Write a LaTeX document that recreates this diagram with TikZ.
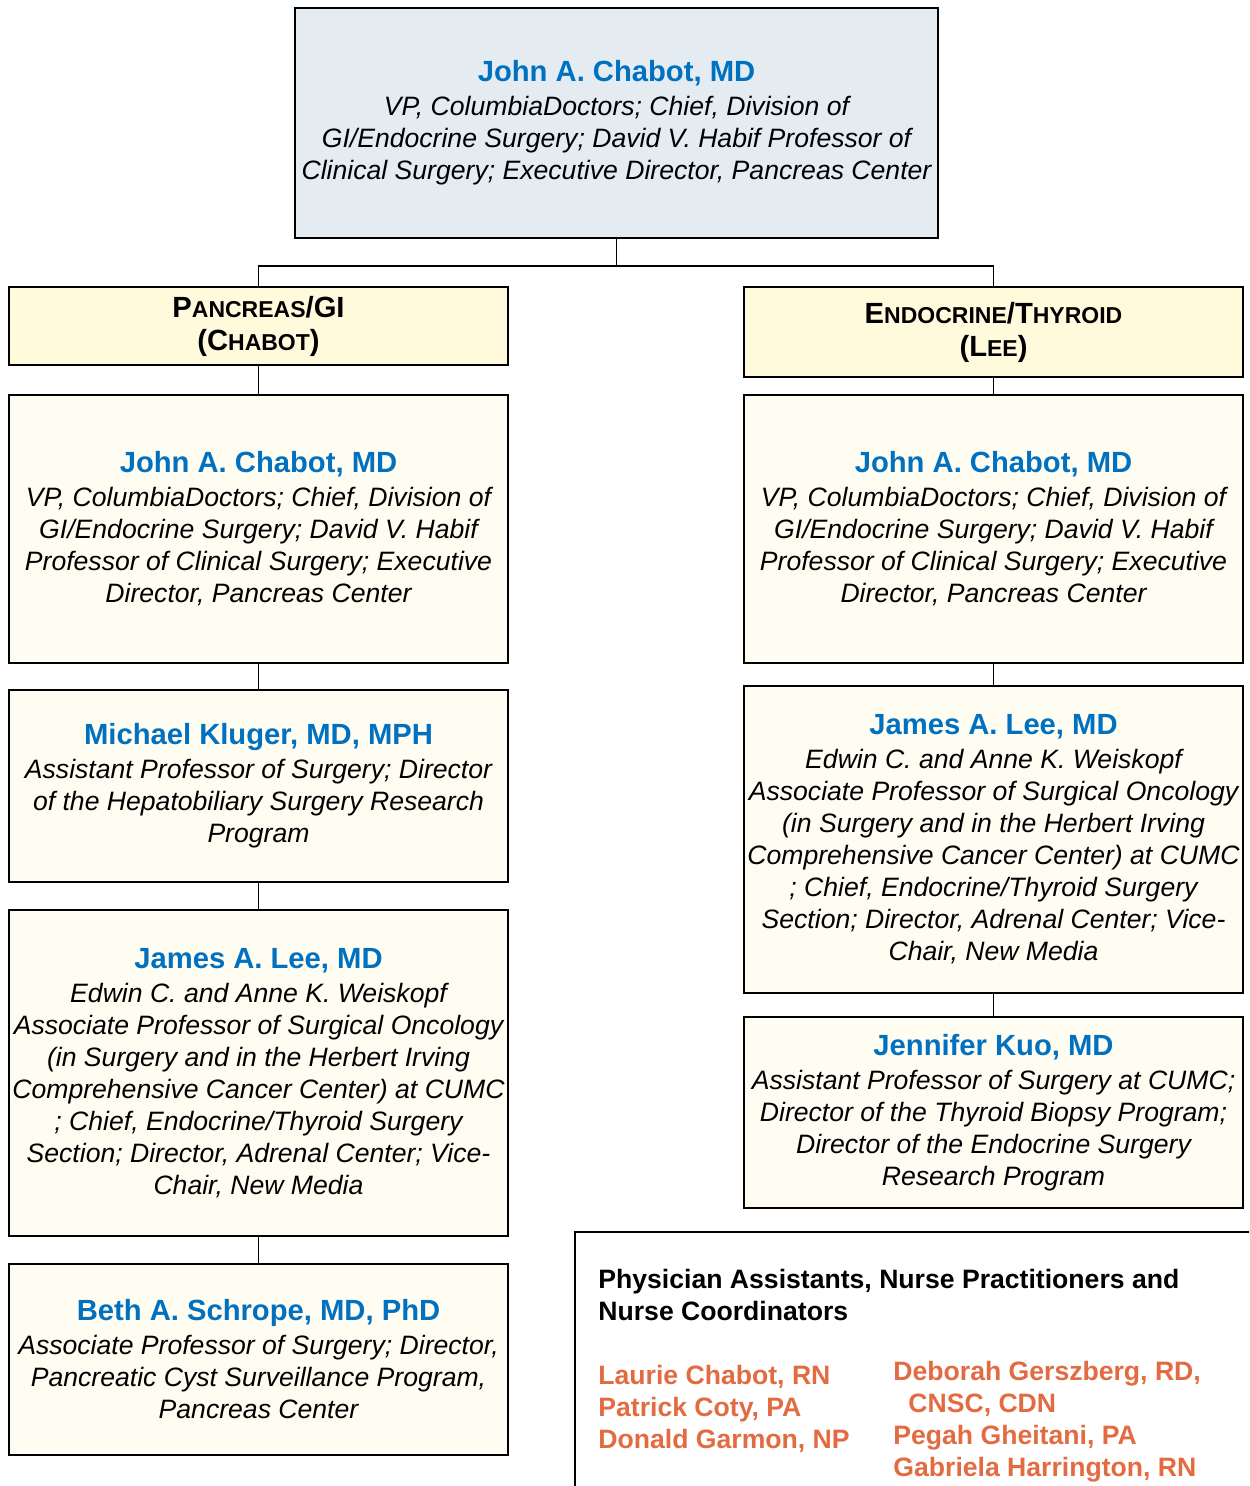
\documentclass[tikz,border=0pt]{standalone}
\usepackage{fontspec}
\setmainfont{Liberation Sans}
\definecolor{nameBlue}{RGB}{0,112,192}
\definecolor{staffOrange}{RGB}{226,107,65}
\definecolor{topFill}{RGB}{228,236,242}
\definecolor{headFill}{RGB}{255,250,220}
\definecolor{boxFill}{RGB}{255,253,242}
\newcommand{\docName}[1]{\textcolor{nameBlue}{\fontsize{14.6}{17}\selectfont\bfseries\upshape #1}}
\newcommand{\smCap}[1]{{\fontsize{11.5}{16.5}\selectfont #1}}

\begin{document}
\begin{tikzpicture}[x=0.5pt, y=-0.5pt,
    boxStyle/.style={rectangle, draw, line width=0.9pt, fill=boxFill, minimum width=249.5pt, inner sep=0pt, align=center, font=\fontsize{13.3}{16}\selectfont\itshape},
    headStyle/.style={boxStyle, fill=headFill, font=\fontsize{14.6}{16.5}\selectfont\bfseries},
    staffStyle/.style={inner sep=0pt, align=left, font=\fontsize{13.3}{16}\selectfont\bfseries},
    linkStyle/.style={line width=0.7pt}]
    \clip (0,0) rectangle (1249,1486);
    \fill[white] (0,0) rectangle (1249,1486);

    \node[boxStyle, fill=topFill, minimum width=321.5pt, minimum height=115pt] (top) at (616.5, 123) {\docName{John A. Chabot, MD}\\[1pt]
        VP, ColumbiaDoctors; Chief, Division of\\
        GI/Endocrine Surgery; David V. Habif Professor of\\
        Clinical Surgery; Executive Director, Pancreas Center};

    \node[headStyle, minimum height=39pt] (pan_head) at (258.5, 326) {P\smCap{ANCREAS}/GI\\(C\smCap{HABOT})};
    \node[headStyle, minimum height=45pt] (end_head) at (993.5, 332) {E\smCap{NDOCRINE}/T\smCap{HYROID}\\(L\smCap{EE})};

    \node[boxStyle, minimum height=134pt] (pan_0) at (258.5, 529) {\docName{John A. Chabot, MD}\\[1pt]
        VP, ColumbiaDoctors; Chief, Division of\\
        GI/Endocrine Surgery; David V. Habif\\
        Professor of Clinical Surgery; Executive\\
        Director, Pancreas Center};
    \node[boxStyle, minimum height=96pt] (pan_1) at (258.5, 786) {\docName{Michael Kluger, MD, MPH}\\[1pt]
        Assistant Professor of Surgery; Director\\
        of the Hepatobiliary Surgery Research\\
        Program};
    \node[boxStyle, minimum height=163pt] (pan_2) at (258.5, 1073) {\docName{James A. Lee, MD}\\[1pt]
        Edwin C. and Anne K. Weiskopf\\
        Associate Professor of Surgical Oncology\\
        (in Surgery and in the Herbert Irving\\
        Comprehensive Cancer Center) at CUMC\\
        ; Chief, Endocrine/Thyroid Surgery\\
        Section; Director, Adrenal Center; Vice-\\
        Chair, New Media};
    \node[boxStyle, minimum height=95.5pt] (pan_3) at (258.5, 1359.5) {\docName{Beth A. Schrope, MD, PhD}\\[1pt]
        Associate Professor of Surgery; Director,\\
        Pancreatic Cyst Surveillance Program,\\
        Pancreas Center};

    \node[boxStyle, minimum height=134pt] (end_0) at (993.5, 529) {\docName{John A. Chabot, MD}\\[1pt]
        VP, ColumbiaDoctors; Chief, Division of\\
        GI/Endocrine Surgery; David V. Habif\\
        Professor of Clinical Surgery; Executive\\
        Director, Pancreas Center};
    \node[boxStyle, minimum height=153.5pt] (end_1) at (993.5, 839.5) {\docName{James A. Lee, MD}\\[1pt]
        Edwin C. and Anne K. Weiskopf\\
        Associate Professor of Surgical Oncology\\
        (in Surgery and in the Herbert Irving\\
        Comprehensive Cancer Center) at CUMC\\
        ; Chief, Endocrine/Thyroid Surgery\\
        Section; Director, Adrenal Center; Vice-\\
        Chair, New Media};
    \node[boxStyle, minimum height=95.5pt] (end_2) at (993.5, 1112.5) {\docName{Jennifer Kuo, MD}\\[1pt]
        Assistant Professor of Surgery at CUMC;\\
        Director of the Thyroid Biopsy Program;\\
        Director of the Endocrine Surgery\\
        Research Program};

    \draw[linkStyle] (top.south) -- ++(0, 27) -| (pan_head.north);
    \draw[linkStyle] (top.south) -- ++(0, 27) -| (end_head.north);
    \draw[linkStyle] (pan_head.south) -- (pan_0.north);
    \draw[linkStyle] (pan_0.south) -- (pan_1.north);
    \draw[linkStyle] (pan_1.south) -- (pan_2.north);
    \draw[linkStyle] (pan_2.south) -- (pan_3.north);
    \draw[linkStyle] (end_head.south) -- (end_0.north);
    \draw[linkStyle] (end_0.south) -- (end_1.north);
    \draw[linkStyle] (end_1.south) -- (end_2.north);

    \node[boxStyle, fill=white, minimum width=362.5pt, minimum height=154pt] (staff) at (937.5, 1386) {};
    \node[staffStyle, anchor=west] (staff_title) at (598, 1295) {Physician Assistants, Nurse Practitioners and\\Nurse Coordinators};
    \node[staffStyle, anchor=west, text=staffOrange] (staff_0) at (598, 1409) {Laurie Chabot, RN\\Patrick Coty, PA\\Donald Garmon, NP};
    \node[staffStyle, anchor=west, text=staffOrange] (staff_1) at (893, 1422) {Deborah Gerszberg, RD,\\\hspace*{7.5pt}CNSC, CDN\\Pegah Gheitani, PA\\Gabriela Harrington, RN};
\end{tikzpicture}
\end{document}
